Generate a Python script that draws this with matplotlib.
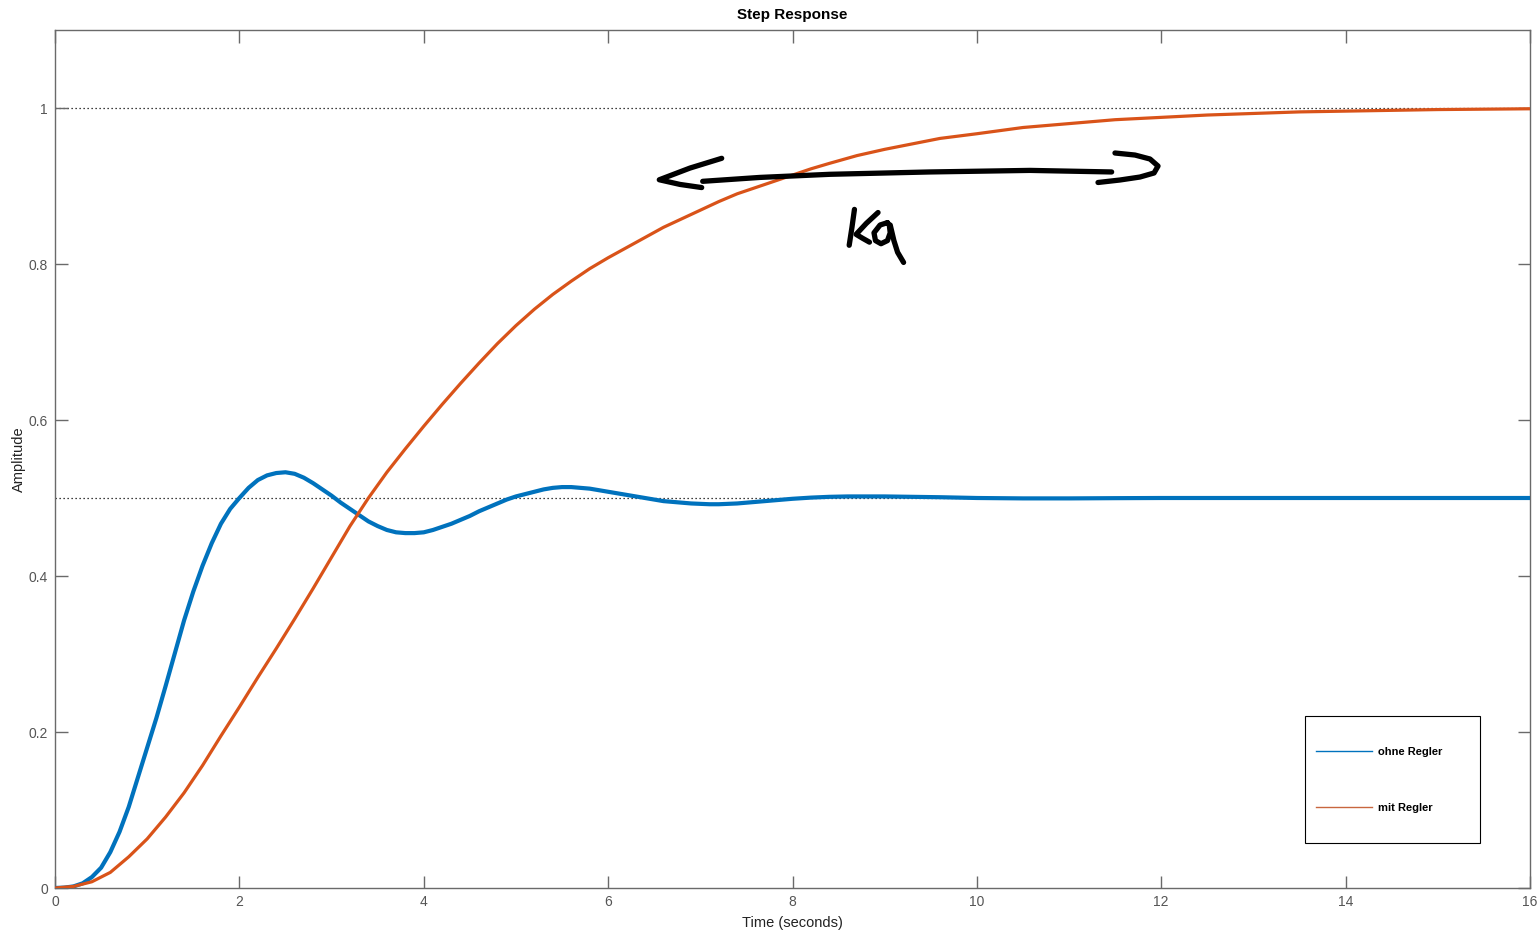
import matplotlib
matplotlib.use("Agg")
import matplotlib.pyplot as plt
from matplotlib.ticker import FuncFormatter
from matplotlib.patches import Rectangle
from matplotlib.lines import Line2D

plt.rcParams['font.family'] = ['Liberation Sans', 'DejaVu Sans']

# ---- data ----
t_ohne = [0, 0.1, 0.2, 0.3, 0.4, 0.5, 0.6, 0.7, 0.8, 0.9, 1.0, 1.1, 1.2, 1.3, 1.4,
          1.5, 1.6, 1.7, 1.8, 1.9, 2.0, 2.1, 2.2, 2.3, 2.4, 2.5, 2.6, 2.7, 2.8, 2.9,
          3.0, 3.1, 3.2, 3.3, 3.4, 3.5, 3.6, 3.7, 3.8, 3.9, 4.0, 4.1, 4.2, 4.3, 4.4,
          4.5, 4.6, 4.7, 4.8, 4.9, 5.0, 5.1, 5.2, 5.3, 5.4, 5.5, 5.6, 5.7, 5.8, 5.9,
          6.0, 6.1, 6.2, 6.3, 6.4, 6.5, 6.6, 6.7, 6.8, 6.9, 7.0, 7.1, 7.2, 7.3, 7.4,
          7.5, 7.6, 7.7, 7.8, 7.9, 8.0, 8.2, 8.4, 8.6, 8.8, 9.0, 9.3, 9.6, 10.0, 10.5,
          11.0, 11.5, 12.0, 13.0, 14.0, 15.0, 16.0]
y_ohne = [0, 0.0005, 0.002, 0.006, 0.014, 0.026, 0.046, 0.072, 0.104, 0.142, 0.180,
          0.218, 0.259, 0.301, 0.343, 0.380, 0.413, 0.442, 0.467, 0.486, 0.500, 0.513,
          0.523, 0.529, 0.532, 0.533, 0.531, 0.526, 0.519, 0.511, 0.503, 0.494, 0.486,
          0.478, 0.470, 0.464, 0.459, 0.456, 0.455, 0.455, 0.456, 0.459, 0.463, 0.467,
          0.472, 0.477, 0.483, 0.488, 0.493, 0.498, 0.502, 0.505, 0.508, 0.511, 0.513,
          0.514, 0.514, 0.513, 0.512, 0.510, 0.508, 0.506, 0.504, 0.502, 0.500, 0.498,
          0.496, 0.495, 0.494, 0.493, 0.4925, 0.492, 0.492, 0.4925, 0.493, 0.494, 0.495,
          0.496, 0.497, 0.498, 0.499, 0.5005, 0.5015, 0.502, 0.502, 0.502, 0.5015, 0.501,
          0.500, 0.4995, 0.4995, 0.4998, 0.500, 0.500, 0.500, 0.500, 0.500]

t_mit = [0, 0.2, 0.4, 0.6, 0.8, 1.0, 1.2, 1.4, 1.6, 1.8, 2.0, 2.2, 2.4, 2.6, 2.8,
         3.0, 3.2, 3.4, 3.6, 3.8, 4.0, 4.2, 4.4, 4.6, 4.8, 5.0, 5.2, 5.4, 5.6, 5.8,
         6.0, 6.2, 6.4, 6.6, 6.8, 7.0, 7.2, 7.4, 7.6, 7.8, 8.0, 8.2, 8.4, 8.7, 9.0,
         9.3, 9.6, 10.0, 10.5, 11.0, 11.5, 12.0, 12.5, 13.0, 13.5, 14.0, 14.5, 15.0,
         15.5, 16.0]
y_mit = [0, 0.002, 0.008, 0.020, 0.040, 0.063, 0.091, 0.122, 0.157, 0.195, 0.232,
         0.270, 0.307, 0.345, 0.384, 0.424, 0.464, 0.500, 0.533, 0.563, 0.592, 0.620,
         0.647, 0.673, 0.698, 0.721, 0.742, 0.761, 0.778, 0.794, 0.808, 0.821, 0.834,
         0.847, 0.858, 0.869, 0.880, 0.890, 0.898, 0.906, 0.914, 0.922, 0.929, 0.939,
         0.947, 0.954, 0.961, 0.967, 0.975, 0.980, 0.985, 0.988, 0.991, 0.993, 0.995,
         0.996, 0.997, 0.998, 0.9985, 0.999]

labels = ['ohne Regler', 'mit Regler']
final_values = [1.0, 0.5]
x_ticks = [0, 2, 4, 6, 8, 10, 12, 14, 16]
y_ticks = [0, 0.2, 0.4, 0.6, 0.8, 1.0]

# handwritten annotation strokes (data coordinates)
arrow_left_head = ([7.232, 6.888, 6.555, 6.78, 7.015], [0.9355, 0.923, 0.908, 0.902, 0.898])
arrow_shaft = ([7.026, 7.647, 8.406, 9.49, 10.576, 11.462],
               [0.906, 0.911, 0.915, 0.918, 0.920, 0.918])
arrow_right_head = ([11.498, 11.715, 11.878, 11.965, 11.922, 11.769, 11.553, 11.314],
                    [0.9423, 0.9397, 0.9346, 0.9256, 0.9167, 0.9115, 0.9077, 0.9045])
k_vertical = ([8.672, 8.645, 8.615], [0.870, 0.847, 0.824])
k_diag = ([8.928, 8.80, 8.690, 8.76, 8.835], [0.866, 0.852, 0.838, 0.833, 0.828])
q_loop = ([9.03, 8.95, 8.884, 8.90, 8.96, 9.03, 9.06, 9.05, 9.03],
          [0.853, 0.850, 0.840, 0.830, 0.826, 0.830, 0.840, 0.850, 0.853])
q_tail = ([9.06, 9.10, 9.14, 9.205], [0.850, 0.830, 0.815, 0.802])

BLUE = '#0072BD'
ORANGE = '#D95319'
GREY = '#6a6a6a'

fig = plt.figure(figsize=(15.4, 9.3), dpi=100)
ax = fig.add_axes([55 / 1540, 42 / 930, 1475 / 1540, 858 / 930])

for fv in final_values:
    ax.axhline(fv, color='black', lw=0.9, ls=(0, (1, 2.2)), zorder=1)

ax.plot(t_ohne, y_ohne, color=BLUE, lw=3.0, solid_joinstyle='round', zorder=3)
ax.plot(t_mit, y_mit, color=ORANGE, lw=2.3, solid_joinstyle='round', zorder=3)

for xs, ys in [arrow_left_head, arrow_shaft, arrow_right_head, k_vertical, k_diag, q_loop, q_tail]:
    ax.plot(xs, ys, color='black', lw=3.8, solid_capstyle='round',
            solid_joinstyle='round', zorder=5)

ax.set_xlim(0, 16)
ax.set_ylim(0, 1.1)
ax.set_xticks(x_ticks)
ax.set_yticks(y_ticks)
ax.yaxis.set_major_formatter(FuncFormatter(lambda v, p: f'{v:g}'))
ax.tick_params(direction='in', length=9, width=1.0, color=GREY, labelcolor='#555555',
               labelsize=10, top=True, right=True, pad=5)
for s in ax.spines.values():
    s.set_color(GREY)
    s.set_linewidth(1.0)

ax.set_title('Step Response', fontsize=11, fontweight='bold', pad=8)
ax.set_xlabel('Time (seconds)', fontsize=10.5, labelpad=5, color='#222222')
ax.set_ylabel('Amplitude', fontsize=10.5, labelpad=2, color='#222222')

# legend: frame drawn as rectangle, entries via legend
box = Rectangle((1250 / 1475, 45 / 858), 175 / 1475, 127 / 858, transform=ax.transAxes,
                facecolor='white', edgecolor='black', lw=0.8, zorder=6)
ax.add_patch(box)
h1 = Line2D([], [], color=BLUE, lw=1.0)
h2 = Line2D([], [], color='#C8663F', lw=1.0)
leg = ax.legend([h1, h2], labels, loc='center left',
                bbox_to_anchor=((1316 - 55) / 1475, (888 - 780) / 858),
                frameon=False, borderpad=0, borderaxespad=0,
                prop={'size': 8, 'weight': 'bold'},
                handlelength=5.0, handletextpad=0.6, labelspacing=4.2)
leg.set_zorder(7)

fig.savefig('out.png', dpi=100, facecolor='white')
